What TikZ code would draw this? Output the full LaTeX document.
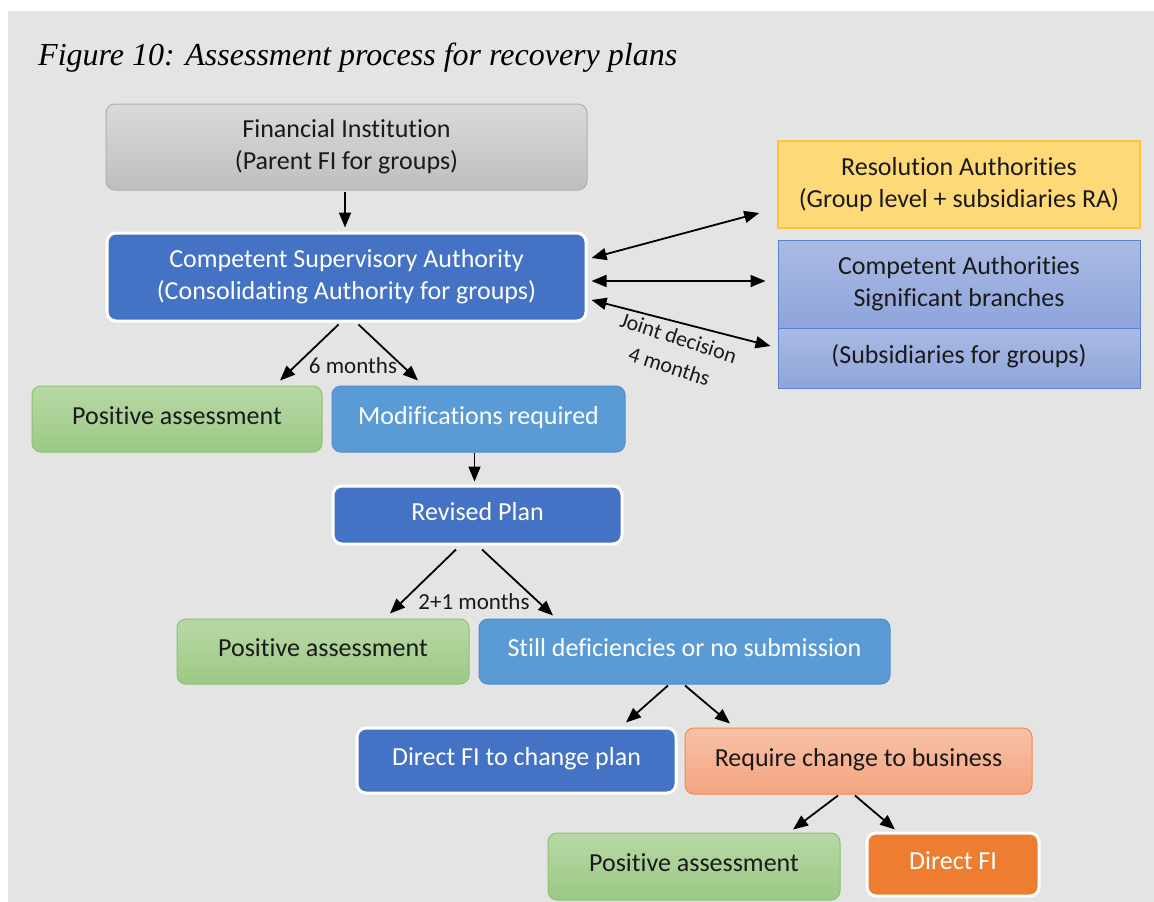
\documentclass[tikz,border=0pt]{standalone}
\usepackage{fontspec}
\setmainfont{Carlito}[Ligatures=NoCommon]
\newfontfamily\titlefont{Liberation Serif}
\usetikzlibrary{arrows.meta,calc}

\definecolor{pagebg}{HTML}{E4E4E4}
\definecolor{greyTop}{HTML}{DADADA}
\definecolor{greyBot}{HTML}{BEBEBE}
\definecolor{greyLine}{HTML}{B0B0B0}
\definecolor{darkBlue}{HTML}{4472C4}
\definecolor{midBlue}{HTML}{5B9BD5}
\definecolor{midBlueLine}{HTML}{4F8CCB}
\definecolor{greenTop}{HTML}{B8D8A5}
\definecolor{greenBot}{HTML}{9CC985}
\definecolor{greenLine}{HTML}{8DC171}
\definecolor{yellowFill}{HTML}{FED978}
\definecolor{yellowLine}{HTML}{F9C440}
\definecolor{lilacTop}{HTML}{AABAE3}
\definecolor{lilacBot}{HTML}{8EA5DB}
\definecolor{lilacLine}{HTML}{5B82CF}
\definecolor{peachTop}{HTML}{F8C1A8}
\definecolor{peachBot}{HTML}{F4A47E}
\definecolor{peachLine}{HTML}{EE8B50}
\definecolor{orangeFill}{HTML}{ED7D31}
\definecolor{ink}{HTML}{1A1A1A}

\tikzset{
  box/.style={rounded corners=9pt, align=center, inner sep=0pt,
    font=\fontsize{26}{32}\selectfont, text=ink},
  oneline/.style={text height=18pt, text depth=8pt},
  greybox/.style={box, draw=greyLine, line width=1pt, top color=greyTop, bottom color=greyBot},
  navybox/.style={box, fill=darkBlue, draw=white, line width=3pt, text=white},
  skybox/.style={box, fill=midBlue, draw=midBlueLine, line width=1pt, text=white},
  greenbox/.style={box, draw=greenLine, line width=1pt, top color=greenTop, bottom color=greenBot},
  yellowbox/.style={box, rounded corners=0pt, fill=yellowFill, draw=yellowLine, line width=1.5pt},
  lilacbox/.style={box, rounded corners=0pt, draw=lilacLine, line width=1pt, top color=lilacTop, bottom color=lilacBot},
  peachbox/.style={box, draw=peachLine, line width=1pt, top color=peachTop, bottom color=peachBot},
  orangebox/.style={box, fill=orangeFill, draw=white, line width=3pt, text=white},
  tip/.tip={Triangle[length=15pt,width=12pt]},
  arr/.style={-tip, line width=1.8pt, black},
  darr/.style={tip-tip, line width=1.8pt, black},
  lbl/.style={font=\fontsize{23}{27}\selectfont, text=ink, inner sep=0pt}
}

\begin{document}
\begin{tikzpicture}[x=1pt, y=-1pt]
  % canvas and grey panel
  \useasboundingbox (0,0) rectangle (1154,902);
  \fill[white] (0,0) rectangle (1154,902);
  \fill[pagebg] (8,11) rectangle (1154,902);

  % title
  \node[anchor=base west, inner sep=0pt, font=\titlefont\itshape\fontsize{32}{36}\selectfont] (title) at (38,65)
    {Figure 10: Assessment process for recovery plans};

  % boxes
  \node[greybox, minimum width=481pt, minimum height=86pt] (fi) at (346.5,147)
    {Financial Institution\\(Parent FI for groups)};
  \node[navybox, minimum width=479pt, minimum height=88pt, text=white] (csa) at (346.5,277)
    {Competent Supervisory Authority\\(Consolidating Authority for groups)};
  \node[yellowbox, minimum width=362pt, minimum height=87pt] (ra) at (959,184.5)
    {Resolution Authorities\\(Group level + subsidiaries RA)};
  \node[lilacbox, minimum width=362pt, minimum height=88pt] (ca) at (959,284)
    {Competent Authorities\\Significant branches};
  \node[lilacbox, oneline, minimum width=362pt, minimum height=60pt] (sub) at (959,358)
    {(Subsidiaries for groups)};

  \node[greenbox, oneline, minimum width=290pt, minimum height=66pt] (pa1) at (177,419) {Positive assessment};
  \node[skybox, oneline, minimum width=293pt, minimum height=66pt] (mod) at (478.5,419) {Modifications required};
  \node[navybox, oneline, minimum width=289pt, minimum height=58pt] (rev) at (477.5,515) {Revised Plan};
  \node[greenbox, oneline, minimum width=292pt, minimum height=65pt] (pa2) at (323,651.5) {Positive assessment};
  \node[skybox, oneline, minimum width=411pt, minimum height=65pt] (still) at (684.5,651.5) {Still deficiencies or no submission};
  \node[navybox, oneline, minimum width=319pt, minimum height=65pt] (dfc) at (516.5,760.5) {Direct FI to change plan};
  \node[peachbox, oneline, minimum width=347pt, minimum height=66pt] (req) at (858.5,761) {Require change to business};
  \node[greenbox, oneline, minimum width=292pt, minimum height=67pt] (pa3) at (694,866.5) {Positive assessment};
  \node[orangebox, oneline, minimum width=172pt, minimum height=63pt] (dfi) at (953,864.5) {Direct FI};

  % connectors
  \draw[arr] ($(fi.south)+(-1.5,1)$) -- ($(csa.north)+(-1.5,-4)$);
  \draw[arr] ($(csa.south)+(-8,2)$) -- ($(pa1.north)+(103,-5)$);
  \draw[arr] ($(csa.south)+(12,2)$) -- ($(mod.north)+(-60.5,-5)$);
  \draw[arr] ($(mod.south)+(-4,0)$) -- ($(rev.north)+(-3,-3)$);
  \draw[arr] ($(rev.south)+(-21.5,4)$) -- ($(pa2.north)+(67,-5)$);
  \draw[arr] ($(rev.south)+(4.5,4)$) -- ($(still.north)+(-131.5,-3)$);
  \draw[arr] ($(still.south)+(-16.5,1)$) -- ($(dfc.north)+(109.5,-4)$);
  \draw[arr] ($(still.south)+(0.5,1)$) -- ($(req.north)+(-128.5,-4)$);
  \draw[arr] ($(req.south)+(-20.5,1)$) -- ($(pa3.north)+(99,-3)$);
  \draw[arr] ($(req.south)+(-3.5,1)$) -- ($(dfi.north)+(-58,-2)$);

  \draw[darr] ($(csa.east)+(4,-19)$) -- ($(ra.west)+(-18,28.5)$);
  \draw[darr] ($(csa.east)+(4,4)$) -- ($(ca.west)+(-12,-3)$);
  \draw[darr] ($(csa.east)+(4,23)$) -- ($(sub.west)+(-7,-12)$);

  % connector labels
  \node[lbl] (six) at (353,366) {6 months};
  \node[lbl] (twoone) at (474,602) {2+1 months};
  \node[lbl, align=center, rotate=-18, font=\fontsize{22}{30}\selectfont] (joint) at (674,352)
    {Joint decision\\4 months};
\end{tikzpicture}
\end{document}
